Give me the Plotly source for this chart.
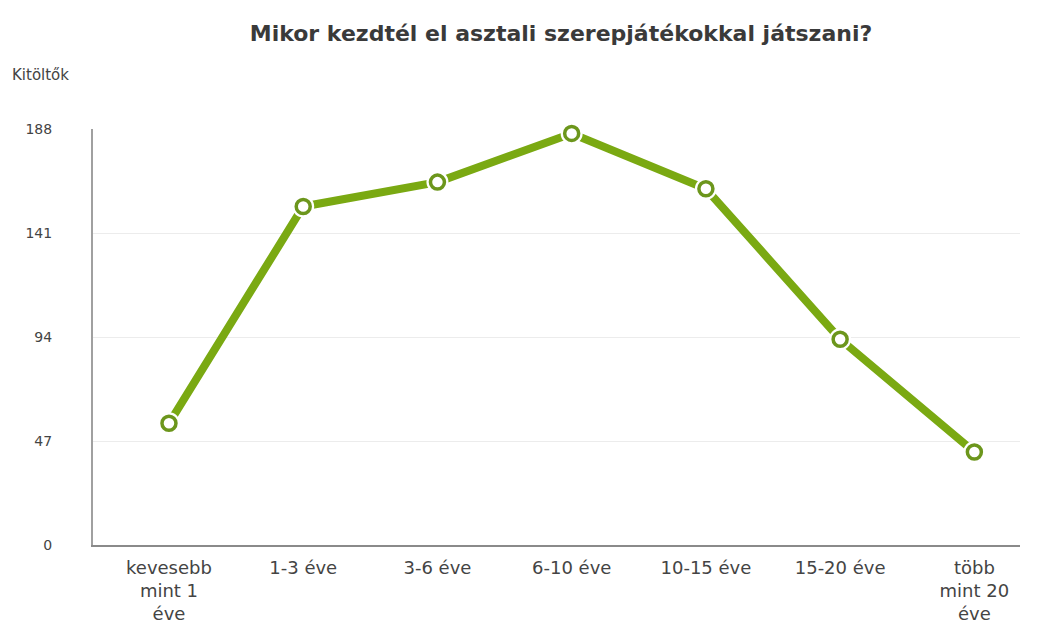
import plotly.graph_objects as go

categories = ["kevesebb<br>mint 1<br>éve", "1-3 éve", "3-6 éve", "6-10 éve",
              "10-15 éve", "15-20 éve", "több<br>mint 20<br>éve"]
values = [55, 153, 164, 186, 161, 93, 42]
y_ticks = [0, 47, 94, 141, 188]

x_idx = list(range(len(categories)))
green = "#7aa912"
ring = "#6c961c"

fig = go.Figure()
fig.add_trace(go.Scatter(x=x_idx, y=values, mode="lines",
                         line=dict(color=green, width=8), hoverinfo="skip", showlegend=False))
fig.add_trace(go.Scatter(x=x_idx, y=values, mode="markers",
                         marker=dict(size=22, color="white", line=dict(width=0)),
                         hoverinfo="skip", showlegend=False))
fig.add_trace(go.Scatter(x=x_idx, y=values, mode="markers",
                         marker=dict(size=14, color="white", line=dict(width=3.5, color=ring)),
                         showlegend=False))
for tr in fig.data:
    tr.cliponaxis = False

W, H = 1040, 634
L, T, R, B = 85, 121, 28, 97
pw, ph = W - L - R, H - T - B

fig.update_layout(
    width=W, height=H,
    margin=dict(l=L, r=R, t=T, b=B),
    plot_bgcolor="white", paper_bgcolor="white",
    title=dict(text="<b>Mikor kezdtél el asztali szerepjátékokkal játszani?</b>",
               x=553 / W, xanchor="center", y=1 - 25 / H, yanchor="middle",
               xref="container", yref="container",
               font=dict(family="DejaVu Sans", size=22, color="#3a3a3a")),
    font=dict(family="DejaVu Sans", color="#444"),
    xaxis=dict(range=[-0.566, 6.34], tickmode="array", tickvals=x_idx, ticktext=categories,
               showgrid=False, showline=True, linecolor="#8a8a8a", linewidth=2,
               ticks="", ticklabelstandoff=5, tickfont=dict(size=18, color="#444"),
               zeroline=False),
    yaxis=dict(range=[0, 188], tickmode="array", tickvals=y_ticks,
               ticktext=[str(v) for v in y_ticks],
               showgrid=True, gridcolor="#ececec", gridwidth=1,
               showline=True, linecolor="#a0a0a0", linewidth=2,
               ticks="", ticklabelstandoff=36, zeroline=False,
               tickfont=dict(size=14, color="#444")),
    annotations=[dict(text="Kitöltők", xref="paper", yref="paper",
                      x=(2 - L) / pw, y=(H - B - 67) / ph,
                      xanchor="left", yanchor="middle", showarrow=False,
                      font=dict(family="DejaVu Sans", size=15, color="#444"))],
)

fig.write_html("out.html")
